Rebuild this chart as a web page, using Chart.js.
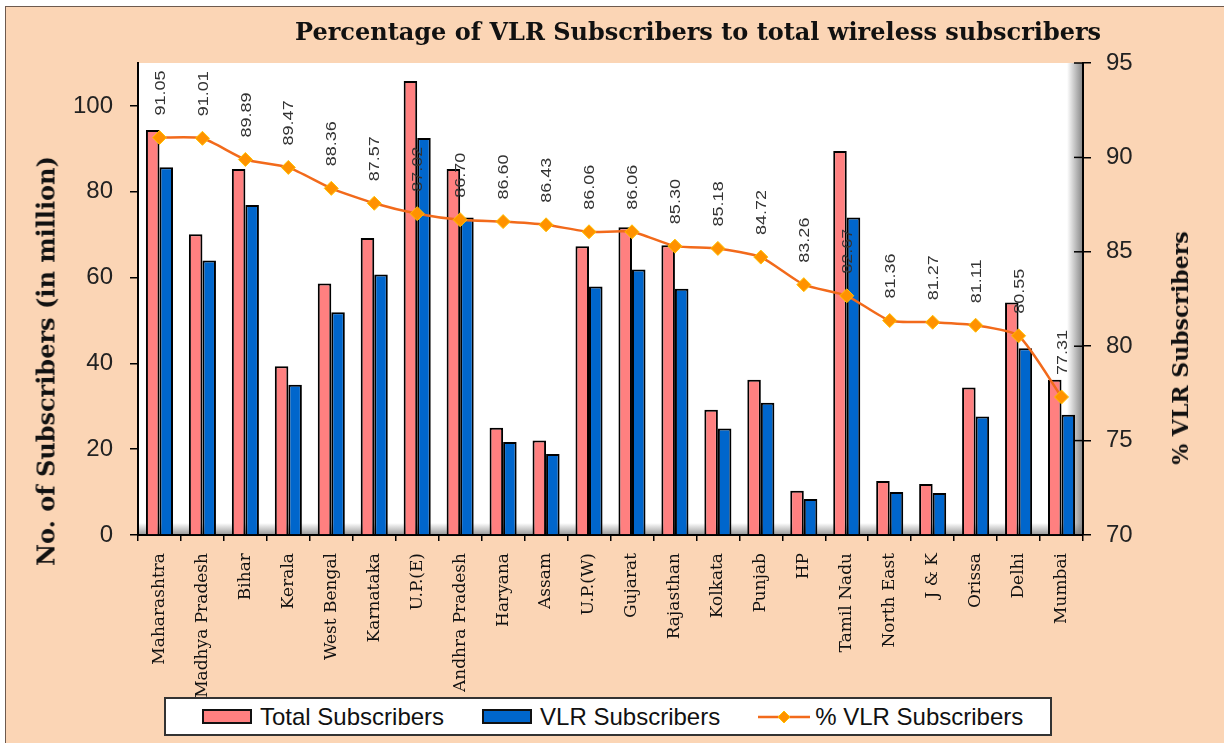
<!DOCTYPE html>
<html>
<head>
<meta charset="utf-8">
<script src="https://cdn.jsdelivr.net/npm/chart.js@4.4.1/dist/chart.umd.min.js"></script>
<style>
  html, body { margin: 0; padding: 0; background: #fff; }
  #wrap { position: relative; width: 1224px; height: 743px; overflow: hidden; }
  #frame { position: absolute; left: 5px; top: 6px; right: 0; bottom: 0; background: #FBD5B5;
           border-left: 1px solid #6e5a4e; border-top: 1px solid #6e5a4e; }
  canvas { position: absolute; left: 0; top: 0; }
  .ttl { position: absolute; font-family: "DejaVu Serif", serif; font-weight: bold; color: #111; white-space: nowrap; }
  #mainTitle { left: 295px; top: 17px; font-size: 24px; }
  #yTitle { left: 46px; top: 361px; font-size: 24px; transform: translate(-50%, -50%) rotate(-90deg); }
  #y1Title { left: 1180px; top: 348px; font-size: 22px; transform: translate(-50%, -50%) rotate(-90deg); }
  #legend { position: absolute; left: 164px; top: 697px; width: 888px; height: 39px; box-sizing: border-box;
            background: #fff; border: 2px solid #333; display: flex; align-items: center; padding-left: 36px; }
  .item { display: flex; align-items: center; margin-right: 38px; flex-shrink: 0; white-space: nowrap;
          font-family: "Liberation Sans", Arial, sans-serif; font-size: 24px; color: #111; }
  .box { width: 50px; height: 15px; box-sizing: border-box; border: 2px solid #111; margin-right: 8px; }
  .item svg { margin-right: 5px; }
</style>
</head>
<body>
<div id="wrap">
  <div id="frame"></div>
  <canvas id="vlrChart" width="1224" height="743"></canvas>
  <div class="ttl" id="mainTitle">Percentage of VLR Subscribers to total wireless subscribers</div>
  <div class="ttl" id="yTitle">No. of Subscribers (in million)</div>
  <div class="ttl" id="y1Title">% VLR Subscribers</div>
  <div id="legend"></div>
</div>
<script>
const circles = ['Maharashtra', 'Madhya Pradesh', 'Bihar', 'Kerala', 'West Bengal', 'Karnataka',
    'U.P.(E)', 'Andhra Pradesh', 'Haryana', 'Assam', 'U.P.(W)', 'Gujarat', 'Rajasthan', 'Kolkata',
    'Punjab', 'HP', 'Tamil Nadu', 'North East', 'J & K', 'Orissa', 'Delhi', 'Mumbai'];

// subscribers in million
const totalSubs = [94.4, 70.1, 85.3, 39.3, 58.6, 69.2, 105.8, 85.3, 25.0, 22.0, 67.3, 71.7,
    67.5, 29.2, 36.2, 10.3, 89.5, 12.6, 11.9, 34.4, 54.2, 36.2];
const vlrSubs = [85.7, 64.0, 76.9, 35.0, 51.9, 60.7, 92.5, 74.0, 21.7, 18.9, 57.9, 61.9,
    57.4, 24.8, 30.8, 8.4, 74.0, 10.0, 9.8, 27.6, 43.5, 28.0];
const vlrPercent = [91.05, 91.01, 89.89, 89.47, 88.36, 87.57, 87.02, 86.70, 86.60, 86.43, 86.06, 86.06,
    85.30, 85.18, 84.72, 83.26, 82.67, 81.36, 81.27, 81.11, 80.55, 77.31];

const leftTicks = [0, 20, 40, 60, 80, 100];
const rightTicks = [70, 75, 80, 85, 90, 95];

// white plot area with the grey "floor" and "wall" shading
const plotBackground = {
    id: 'plotBackground',
    beforeDraw(chart) {
        const { ctx, chartArea: a } = chart;
        ctx.save();
        ctx.fillStyle = '#fff';
        ctx.fillRect(a.left, a.top, a.right - a.left, a.bottom - a.top);
        let g = ctx.createLinearGradient(0, a.bottom - 12, 0, a.bottom);
        g.addColorStop(0, 'rgba(140,140,140,0)');
        g.addColorStop(1, 'rgba(140,140,140,0.9)');
        ctx.fillStyle = g;
        ctx.fillRect(a.left, a.bottom - 12, a.right - a.left, 12);
        g = ctx.createLinearGradient(a.right - 16, 0, a.right, 0);
        g.addColorStop(0, 'rgba(120,120,120,0)');
        g.addColorStop(1, 'rgba(120,120,120,0.9)');
        ctx.fillStyle = g;
        ctx.fillRect(a.right - 16, a.top, 16, a.bottom - a.top);
        ctx.restore();
    },
    afterDraw(chart) {
        // right axis ticks cross the axis line
        const { ctx, scales } = chart;
        const s = scales.y1;
        ctx.save();
        ctx.strokeStyle = '#000';
        ctx.lineWidth = 1.5;
        s.ticks.forEach(t => {
            const y = s.getPixelForValue(t.value);
            ctx.beginPath();
            ctx.moveTo(s.left - 9, y);
            ctx.lineTo(s.left, y);
            ctx.stroke();
        });
        ctx.restore();
    }
};

// rotated value labels above the % line
const pointLabels = {
    id: 'pointLabels',
    afterDatasetsDraw(chart) {
        const { ctx } = chart;
        const meta = chart.getDatasetMeta(0);
        ctx.save();
        ctx.fillStyle = '#333';
        ctx.font = '15px "Liberation Sans", Arial, sans-serif';
        ctx.textAlign = 'left';
        ctx.textBaseline = 'middle';
        meta.data.forEach((pt, i) => {
            ctx.save();
            ctx.translate(pt.x + 1, pt.y - 22);
            ctx.rotate(-Math.PI / 2);
            ctx.scale(1.2, 1);
            ctx.fillText(vlrPercent[i].toFixed(2), 0, 0);
            ctx.restore();
        });
        ctx.restore();
    }
};

const ctx = document.getElementById('vlrChart').getContext('2d');
const chart = new Chart(ctx, {
    type: 'bar',
    data: {
        labels: circles,
        datasets: [
            {
                type: 'line',
                label: '% VLR Subscribers',
                data: vlrPercent,
                yAxisID: 'y1',
                order: 0,
                borderColor: '#F26A1B',
                borderWidth: 2.5,
                tension: 0.2,
                pointStyle: 'rectRot',
                pointRadius: 7,
                pointBackgroundColor: '#FF9200',
                pointBorderColor: '#FFC000',
                pointBorderWidth: 1
            },
            {
                label: 'Total Subscribers',
                data: totalSubs,
                yAxisID: 'y',
                order: 1,
                backgroundColor: '#FF8080',
                borderColor: '#000',
                borderWidth: 2,
                borderSkipped: 'bottom',
                categoryPercentage: 0.63,
                barPercentage: 1.0
            },
            {
                label: 'VLR Subscribers',
                data: vlrSubs,
                yAxisID: 'y',
                order: 2,
                backgroundColor: '#0066CC',
                borderColor: '#000',
                borderWidth: 2,
                borderSkipped: 'bottom',
                categoryPercentage: 0.63,
                barPercentage: 1.0
            }
        ]
    },
    options: {
        responsive: false,
        animation: false,
        layout: { padding: { top: 63, left: 0, right: 0, bottom: 46 } },
        plugins: {
            legend: { display: false },
            tooltip: { enabled: false },
            title: { display: false }
        },
        scales: {
            x: {
                afterFit: s => { s.height = 162; },
                border: { color: '#000', width: 2 },
                grid: { drawOnChartArea: false, offset: true, tickLength: 6, color: '#000', lineWidth: 1.5 },
                ticks: {
                    minRotation: 90, maxRotation: 90, autoSkip: false, padding: 12,
                    color: '#111',
                    font: { family: '"DejaVu Serif", serif', size: 17 }
                }
            },
            y: {
                position: 'left',
                min: 0, max: 110,
                afterFit: s => { s.width = 138; },
                afterBuildTicks: s => { s.ticks = leftTicks.map(v => ({ value: v })); },
                border: { color: '#000', width: 2 },
                grid: { drawOnChartArea: false, tickLength: 8, color: '#000', lineWidth: 1.5 },
                ticks: {
                    padding: 17, color: '#222',
                    font: { family: '"Liberation Sans", Arial, sans-serif', size: 24 }
                }
            },
            y1: {
                position: 'right',
                min: 70, max: 95,
                afterFit: s => { s.width = 141; },
                afterBuildTicks: s => { s.ticks = rightTicks.map(v => ({ value: v })); },
                border: { color: '#000', width: 2 },
                grid: { drawOnChartArea: false, tickLength: 8, color: '#000', lineWidth: 1.5 },
                ticks: {
                    padding: 15, color: '#222',
                    font: { family: '"Liberation Sans", Arial, sans-serif', size: 24 }
                }
            }
        }
    },
    plugins: [plotBackground, pointLabels]
});

// html legend built from the datasets, in the reference's order
const legendEl = document.getElementById('legend');
[1, 2, 0].forEach(i => {
    const ds = chart.data.datasets[i];
    const item = document.createElement('div');
    item.className = 'item';
    if (ds.type === 'line') {
        item.innerHTML = '<svg width="52" height="16">' +
            '<line x1="0" y1="8" x2="52" y2="8" stroke="' + ds.borderColor + '" stroke-width="2.5"/>' +
            '<polygon points="26,2 32,8 26,14 20,8" fill="' + ds.pointBackgroundColor + '" stroke="' + ds.pointBorderColor + '"/></svg>';
    } else {
        item.innerHTML = '<div class="box" style="background:' + ds.backgroundColor + '"></div>';
    }
    const label = document.createElement('span');
    label.textContent = ds.label;
    item.appendChild(label);
    legendEl.appendChild(item);
});
</script>
</body>
</html>
